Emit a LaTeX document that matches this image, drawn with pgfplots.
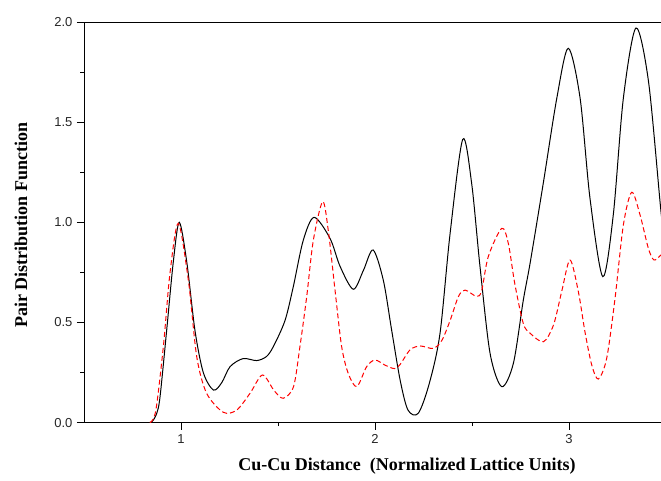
\documentclass[border=0pt]{standalone}
\usepackage{fontspec}
\setmainfont{Liberation Serif}
\newfontfamily\arial{Liberation Sans}
\usepackage{pgfplots}
\pgfplotsset{compat=1.18}
\usetikzlibrary{calc}

\begin{document}
\begin{tikzpicture}
\begin{axis}[
    name=ax,
    scale only axis,
    width=577pt, height=400.7pt,
    xmin=0.5, xmax=3.474,
    ymin=0, ymax=2.0,
    enlargelimits=false,
    axis x line*=box,
    axis y line*=left,
    axis line style={-, line width=0.9pt},
    tick pos=left,
    tick align=outside,
    major tick length=7pt,
    minor tick length=3.5pt,
    every tick/.style={black, line width=0.8pt},
    xtick={1,2,3},
    minor xtick={1.5,2.5},
    ytick={0,0.5,1.0,1.5,2.0},
    minor ytick={0.25,0.75,1.25,1.75},
    xticklabels={1,2,3},
    yticklabel style={/pgf/number format/fixed, /pgf/number format/fixed zerofill,
        /pgf/number format/precision=1, xshift=-1pt},
    /pgf/number format/assume math mode=true,
    ticklabel style={font=\arial\fontsize{13}{15}\selectfont, text=black!85},
    xticklabel style={yshift=-1pt},
    xlabel={Cu-Cu Distance~~(Normalized Lattice Units)},
    ylabel={Pair Distribution Function},
    every axis x label/.style={at={(rel axis cs:0.5598,0)}, anchor=center, yshift=-43pt,
        font=\bfseries\fontsize{18}{20}\selectfont},
    every axis y label/.style={at={(rel axis cs:0,0.4925)}, anchor=center, xshift=-63pt, rotate=90,
        font=\bfseries\fontsize{18}{20}\selectfont},
]
% measured curve
\addplot[black, line width=1pt, smooth, tension=0.5] coordinates {
(0.82,0.0) (0.85,0.005) (0.875,0.047) (0.892,0.13) (0.926,0.46) (0.96,0.80) (0.991,1.00)
(1.03,0.80) (1.072,0.46) (1.115,0.25) (1.167,0.163) (1.21,0.20) (1.253,0.28) (1.32,0.32)
(1.39,0.31) (1.44,0.33) (1.476,0.38) (1.536,0.51) (1.579,0.68) (1.63,0.91) (1.686,1.025)
(1.768,0.92) (1.82,0.78) (1.888,0.666) (1.94,0.76) (1.99,0.862) (2.043,0.71) (2.086,0.46)
(2.13,0.21) (2.17,0.063) (2.223,0.047) (2.28,0.197) (2.335,0.446) (2.387,0.945) (2.452,1.414)
(2.498,1.195) (2.541,0.78) (2.593,0.346) (2.653,0.18) (2.713,0.296) (2.764,0.61) (2.80,0.80)
(2.868,1.20) (2.937,1.62) (2.996,1.869) (3.057,1.62) (3.108,1.12) (3.174,0.729) (3.228,1.037)
(3.28,1.62) (3.345,1.97) (3.41,1.70) (3.474,1.053) (3.50,0.85)
};
% model curve
\addplot[red, line width=1pt, dash pattern=on 5pt off 3pt, smooth, tension=0.5] coordinates {
(0.84,0.0) (0.87,0.06) (0.909,0.38) (0.943,0.745) (0.986,0.995) (1.038,0.71) (1.081,0.33)
(1.132,0.147) (1.218,0.052) (1.287,0.063) (1.356,0.147) (1.42,0.238) (1.48,0.16) (1.527,0.122)
(1.58,0.18) (1.613,0.38) (1.648,0.63) (1.682,0.91) (1.73,1.103) (1.759,0.96) (1.794,0.66)
(1.828,0.38) (1.862,0.246) (1.906,0.18) (1.957,0.28) (2.0,0.313) (2.05,0.288) (2.10,0.27)
(2.129,0.29) (2.18,0.363) (2.232,0.383) (2.30,0.371) (2.344,0.41) (2.387,0.51) (2.43,0.63)
(2.464,0.662) (2.524,0.63) (2.55,0.66) (2.584,0.83) (2.653,0.97) (2.687,0.895) (2.72,0.696)
(2.764,0.496) (2.80,0.446) (2.868,0.404) (2.92,0.488) (2.962,0.654) (3.005,0.812) (3.048,0.654)
(3.082,0.454) (3.117,0.288) (3.151,0.218) (3.194,0.321) (3.237,0.62) (3.28,0.987) (3.323,1.15)
(3.366,1.037) (3.409,0.87) (3.438,0.812) (3.474,0.837) (3.50,0.85)
};
\end{axis}
\pgfresetboundingbox
\path ($(ax.south west)+(-84pt,-58.3pt)$) rectangle ($(ax.north east)+(0pt,22pt)$);
\end{tikzpicture}
\end{document}
